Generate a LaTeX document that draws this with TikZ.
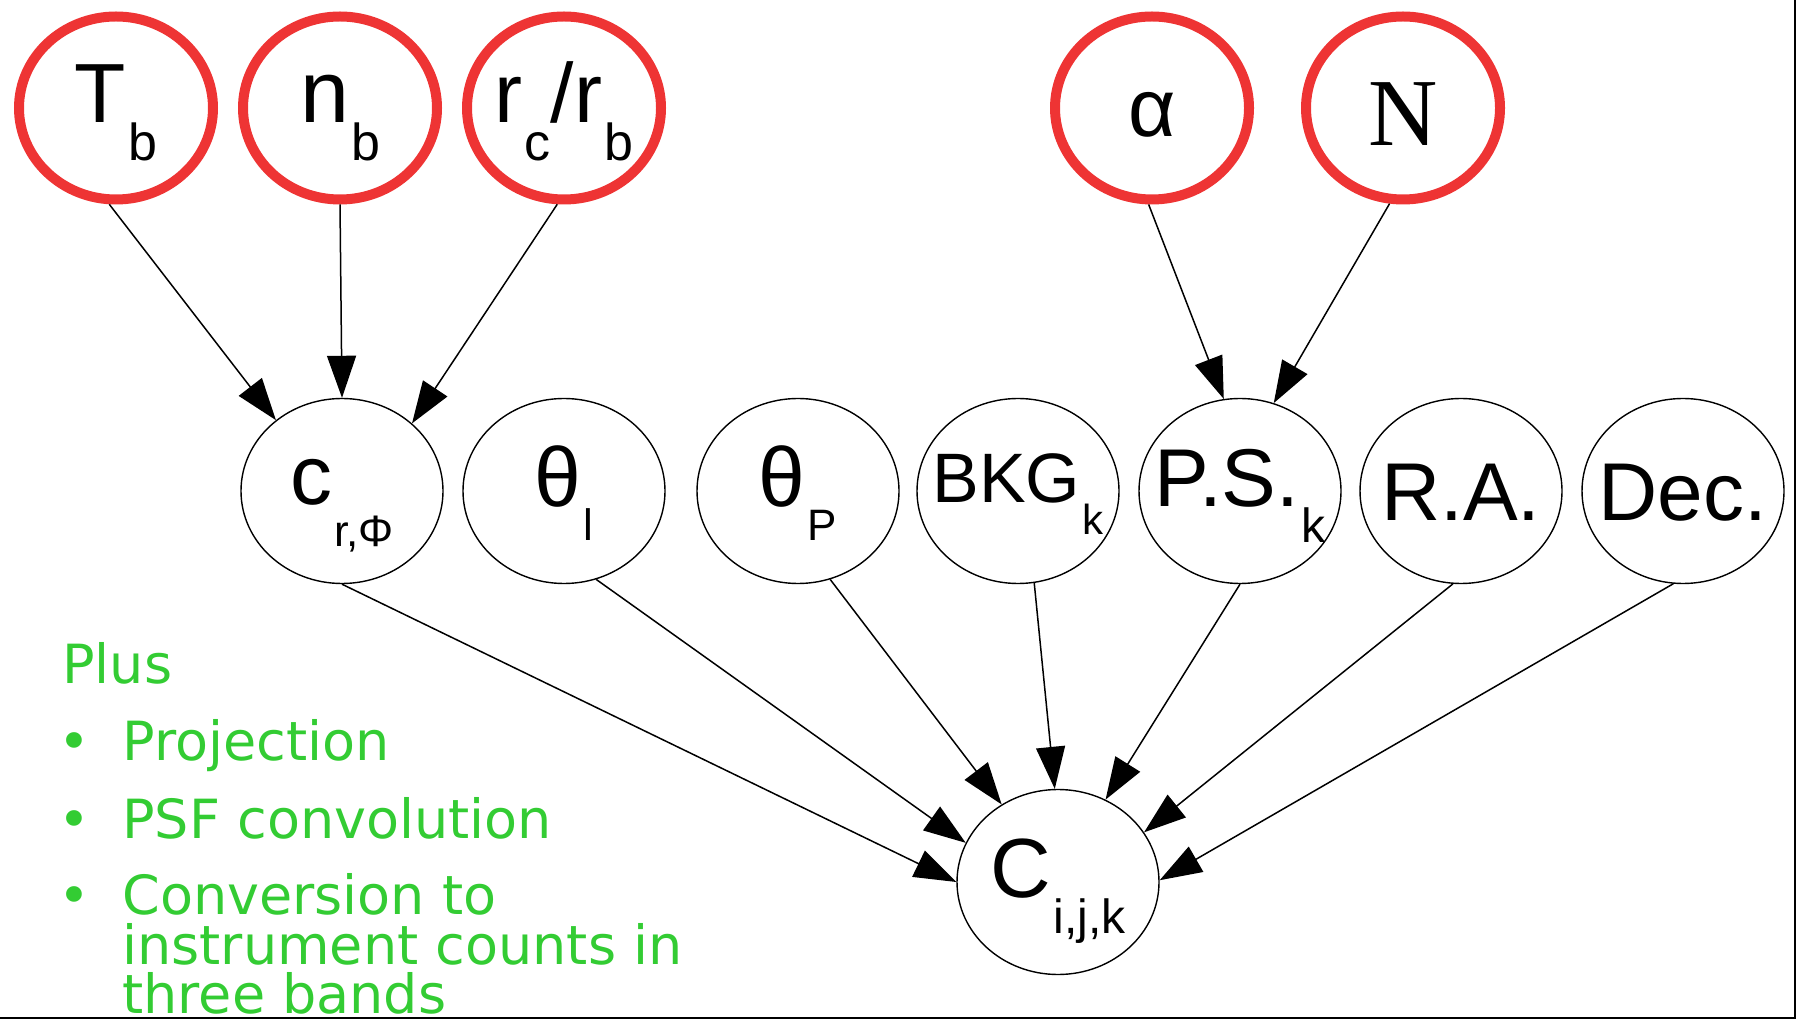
\documentclass[tikz,border=0pt]{standalone}
\usepackage{fontspec}
\setmainfont{Liberation Sans}
\newfontfamily\serifN{Liberation Serif}
\newfontfamily\dejavu{DejaVu Sans}
\usetikzlibrary{arrows.meta,shapes.geometric}
\definecolor{pred}{RGB}{238,52,52}
\definecolor{pgreen}{RGB}{51,204,51}
% main text, sub text: \ms{mainsize}{main}{subsize}{drop}{sub}
\newcommand{\ms}[5]{{\fontsize{#1}{#1}\selectfont #2}\kern1pt\raisebox{-#4}{\fontsize{#3}{#3}\selectfont #5}}
\newcommand{\zw}[1]{\makebox[0pt][c]{#1}}
\tikzset{
  var/.style={ellipse, draw=black, line width=0.7pt, inner sep=0pt,
              minimum width=101pt, minimum height=92.5pt},
  hyp/.style={ellipse, draw=pred, line width=5pt, inner sep=0pt,
              minimum width=97pt, minimum height=91.5pt},
  bl/.style args={#1/#2}{text height=#1, text depth=#2},
  arr/.style={-{Triangle[length=21pt,width=14.5pt]}, line width=0.75pt},
  note/.style={text=pgreen, font=\dejavu\fontsize{27}{27}\selectfont,
               anchor=base west, inner sep=0pt}
}
\begin{document}
\begin{tikzpicture}[x=0.5pt,y=-0.5pt]
\useasboundingbox (0,0) rectangle (1797,1020);
% hyper-parameters
\node[hyp, bl={27.5pt/12.5pt}] (Tb) at (116,108) {\zw{\ms{42}{T}{26}{19pt}{b}}};
\node[hyp, bl={27.5pt/12.5pt}] (nb) at (340,108) {\zw{\ms{44}{n}{26}{19pt}{b}}};
\node[hyp, bl={27.5pt/12.5pt}] (rc) at (564,108) {\zw{\ms{42}{r}{26}{19pt}{c}\ms{42}{/r}{26}{19pt}{b}}};
\node[hyp, bl={34.5pt/5.5pt}] (al) at (1152,108) {\zw{\fontsize{41}{41}\selectfont α}};
\node[hyp, bl={39pt/1pt}] (N) at (1403,108) {\zw{\serifN\fontsize{48}{48}\selectfont N}};
% middle row
\node[var, bl={27pt/13pt}] (c) at (342,491) {\zw{\ms{42}{c}{22}{21pt}{r,Φ}}};
\node[var, bl={28pt/12pt}] (tl) at (564,491) {\zw{\ms{42}{θ}{22}{17pt}{l}}};
\node[var, bl={28pt/12pt}] (tp) at (798,491) {\zw{\ms{42}{θ}{22}{17pt}{P}}};
\node[var, bl={26pt/14pt}] (bkg) at (1018,491) {\zw{\ms{35}{BKG}{21}{16pt}{k}}};
\node[var, bl={28pt/12pt}] (PS) at (1240,491) {\zw{\ms{41}{P.S.}{24}{18pt}{k}}};
\node[var, bl={35pt/5pt}] (RA) at (1461,491) {\zw{\fontsize{41}{41}\selectfont R.A.}};
\node[var, bl={35pt/5pt}] (Dec) at (1683,491) {\zw{\fontsize{41}{41}\selectfont Dec.}};
% bottom
\node[var, bl={27.5pt/12.5pt}] (C) at (1058,882) {\zw{\ms{42}{C}{24}{18pt}{i,j,k}}};
% connectors
\draw[arr] (Tb.-94) -- (c.133);
\draw[arr] (nb.-90) -- (c.90);
\draw[arr] (rc.-94) -- (c.44);
\draw[arr] (al.-92) -- (PS.100);
\draw[arr] (N.-98) -- (PS.69);
\draw[arr] (c.-90) -- (C.180);
\draw[arr] (tl.-70) -- (C.157);
\draw[arr] (tp.-70) -- (C.126);
\draw[arr] (bkg.-80) -- (C.92);
\draw[arr] (PS.-90) -- (C.60);
\draw[arr] (RA.-95) -- (C.30);
\draw[arr] (Dec.-96) -- (C.1);
% notes
\node[note] (plus) at (62,683) {Plus};
\node[note] (d1) at (58,760) {•};
\node[note] (i1) at (122,760) {Projection};
\node[note] (d2) at (58,838) {•};
\node[note] (i2) at (122,838) {PSF convolution};
\node[note] (d3) at (58,914) {•};
\node[note] (i3) at (122,914) {Conversion to};
\node[note] (i3b) at (122,964) {instrument counts in};
\node[note] (i3c) at (122,1013) {three bands};
% frame edges
\draw[line width=1pt] (1795,0) -- (1795,1018) -- (0,1018);
\end{tikzpicture}
\end{document}
